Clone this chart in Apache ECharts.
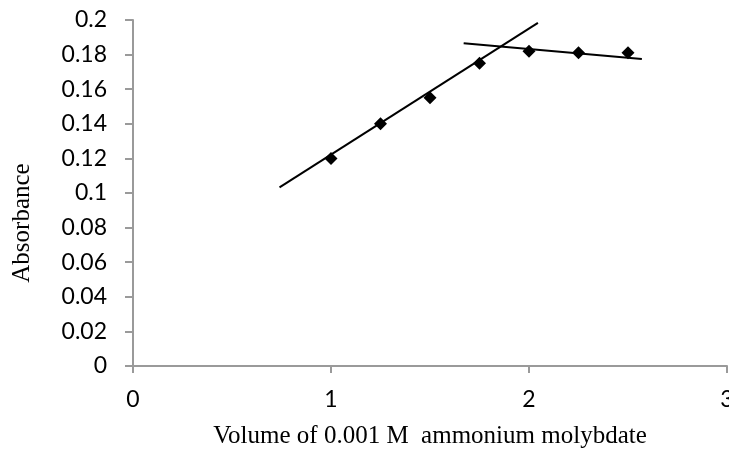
<!DOCTYPE html>
<html>
<head>
<meta charset="utf-8">
<script src="https://cdn.jsdelivr.net/npm/echarts@6/dist/echarts.min.js"></script>
<style>
  html, body { margin: 0; padding: 0; background: #fff; }
  #chart { width: 729px; height: 459px; }
</style>
</head>
<body>
<div id="chart"></div>
<script>
// Volume of titrant (mL) and measured absorbance
const volume = [1, 1.25, 1.5, 1.75, 2, 2.25, 2.5];
const absorbance = [0.12, 0.14, 0.155, 0.175, 0.182, 0.181, 0.181];

// Hand-fitted straight lines through the rising and the flat part
const riseLine = [[0.74, 0.1032], [2.045, 0.1983]];
const flatLine = [[1.67, 0.1865], [2.57, 0.1775]];

const xTicks = [0, 1, 2, 3];
const yMax = 0.2;
const yStep = 0.02;

const axisGrey = '#9a9a9a';
const chart = echarts.init(document.getElementById('chart'));

chart.setOption({
  animation: false,
  grid: {
    left: 133, right: 2, top: 20, bottom: 93,
    containLabel: false,
    outerBoundsMode: 'none'
  },
  xAxis: {
    type: 'value',
    min: xTicks[0],
    max: xTicks[xTicks.length - 1],
    interval: 1,
    name: 'Volume of 0.001 M  ammonium molybdate',
    nameLocation: 'middle',
    nameGap: 58,
    nameTextStyle: { fontFamily: 'Liberation Serif', fontSize: 25, color: '#000' },
    axisLine: { lineStyle: { color: axisGrey, width: 2 } },
    axisTick: { show: true, length: 7, lineStyle: { color: axisGrey, width: 2 } },
    axisLabel: { fontFamily: 'Lato', fontSize: 23, color: '#000', margin: 22 },
    splitLine: { show: false }
  },
  yAxis: {
    type: 'value',
    min: 0,
    max: yMax,
    interval: yStep,
    name: 'Absorbance',
    nameLocation: 'middle',
    nameGap: 98,
    nameTextStyle: {
      fontFamily: 'Liberation Serif', fontSize: 25, color: '#000',
      padding: [0, 60, 0, 0]
    },
    axisLine: { show: true, lineStyle: { color: axisGrey, width: 2 } },
    axisTick: { show: true, length: 8, lineStyle: { color: axisGrey, width: 2 } },
    axisLabel: {
      fontFamily: 'Lato', fontSize: 23, color: '#000', margin: 26,
      formatter: v => String(parseFloat(v.toFixed(2)))
    },
    splitLine: { show: false }
  },
  series: [
    {
      type: 'line',
      data: riseLine,
      symbol: 'none',
      lineStyle: { color: '#000', width: 2 },
      z: 2
    },
    {
      type: 'line',
      data: flatLine,
      symbol: 'none',
      lineStyle: { color: '#000', width: 2 },
      z: 2
    },
    {
      type: 'scatter',
      data: volume.map((v, i) => [v, absorbance[i]]),
      symbol: 'diamond',
      symbolSize: [13, 13],
      itemStyle: { color: '#000', opacity: 1 },
      z: 3
    }
  ]
});
</script>
</body>
</html>
